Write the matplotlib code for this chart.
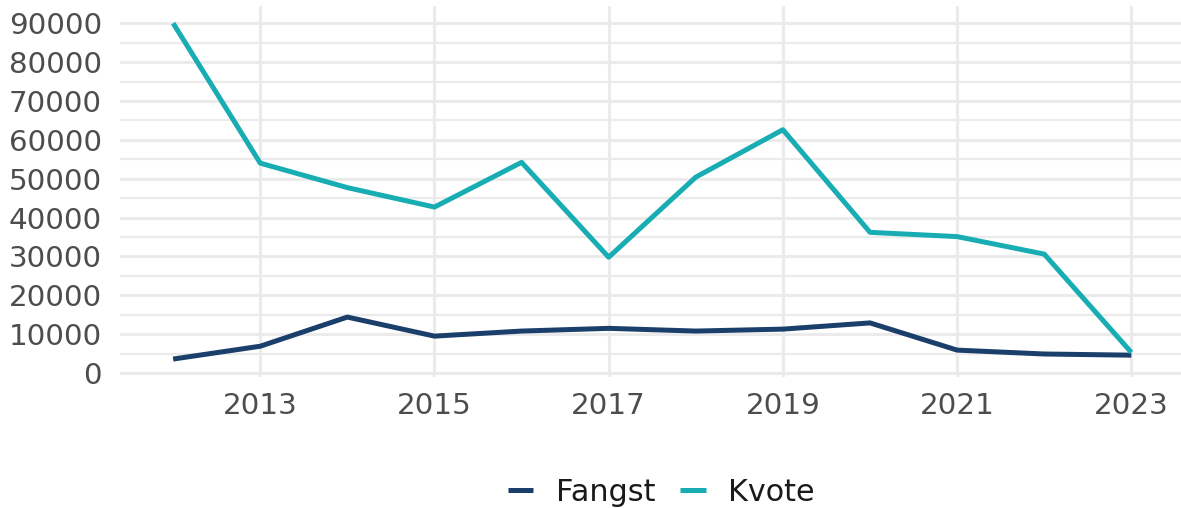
import numpy as np
import matplotlib.pyplot as plt
from matplotlib.ticker import MultipleLocator

years = [2012, 2013, 2014, 2015, 2016, 2017, 2018, 2019, 2020, 2021, 2022, 2023]
fangst = [3600, 6900, 14400, 9500, 10800, 11500, 10800, 11300, 12900, 5900, 4900, 4600]
kvote = [90000, 54000, 47700, 42700, 54200, 29800, 50400, 62600, 36200, 35100, 30600, 5300]

fig = plt.figure(figsize=(11.81, 5.08), dpi=100)
ax = fig.add_axes([0.1016, 0.258, 0.8984, 0.73])

ax.plot(years, fangst, color="#1b3f6b", lw=3.6, label="Fangst", solid_capstyle="butt")
ax.plot(years, kvote, color="#18adb3", lw=3.6, label="Kvote", solid_capstyle="butt")

ax.set_xlim(2011.39, 2023.57)
ax.set_ylim(-1000, 94400)
ax.set_xticks([2013, 2015, 2017, 2019, 2021, 2023])
ax.yaxis.set_major_locator(MultipleLocator(10000))
ax.yaxis.set_minor_locator(MultipleLocator(5000))
ax.grid(True, which="major", color="#ebebeb", lw=2.2)
ax.grid(True, which="minor", axis="y", color="#ebebeb", lw=1.6)
ax.set_axisbelow(True)
for s in ax.spines.values():
    s.set_visible(False)
ax.tick_params(which="both", length=0, labelsize=21.2, labelcolor="#4d4d4d")
ax.tick_params(axis="x", pad=11)
ax.tick_params(axis="y", pad=13)

fig.legend(loc="center", bbox_to_anchor=(0.56, 0.031), ncol=2, frameon=False,
           fontsize=21.8, handlelength=0.85, columnspacing=0.8, handletextpad=0.75,
           labelcolor="#1a1a1a")

fig.savefig("out.png", dpi=100)
